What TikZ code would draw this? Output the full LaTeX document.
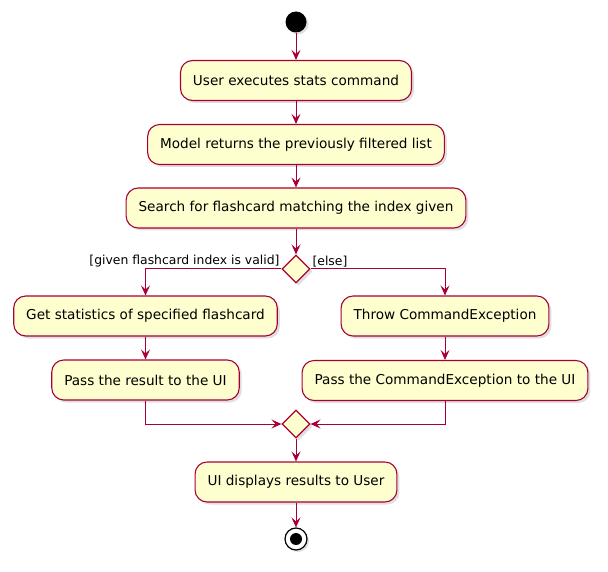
\documentclass[tikz,border=0pt]{standalone}
\usepackage{fontspec}
\setmainfont{DejaVu Sans}
\usetikzlibrary{arrows.meta,shapes.geometric,shadows}
\definecolor{umlfill}{HTML}{FEFECE}
\definecolor{umlline}{HTML}{A80036}
\begin{document}
\begin{tikzpicture}[x=1pt,y=-1pt,
    act/.style={draw=umlline, fill=umlfill, line width=1.1pt, rounded corners=12pt,
        minimum height=40pt, inner xsep=12.5pt, font=\fontsize{13.6}{15}\selectfont,
        drop shadow={shadow xshift=2.5pt, shadow yshift=-2.5pt, opacity=0.25}},
    branch/.style={diamond, draw=umlline, fill=umlfill, line width=1.1pt,
        minimum width=28pt, minimum height=28pt, inner sep=0pt,
        drop shadow={shadow xshift=2.5pt, shadow yshift=-2.5pt, opacity=0.25}},
    flow/.style={draw=umlline, line width=1pt, -{Stealth[length=10pt, width=9pt, inset=4pt]}},
    guard/.style={font=\fontsize{12.4}{14}\selectfont, inner sep=1.5pt}]
    \useasboundingbox (0,0) rectangle (608,572);
    \node[circle, fill=black, minimum size=21pt, inner sep=0pt,
        drop shadow={shadow xshift=2pt, shadow yshift=-2pt, opacity=0.25}] (start) at (296,22) {}; % Start
    \node[act] (user) at (296,80.5) {User executes stats command};
    \node[act] (model) at (296,144.5) {Model returns the previously filtered list};
    \node[act] (search) at (296,208) {Search for flashcard matching the index given};
    \node[branch] (check) at (296,269) {}; % Checking the index
    \node[act] (stats) at (145.5,316) {Get statistics of specified flashcard};
    \node[act] (pass) at (145.5,380) {Pass the result to the UI};
    \node[act] (throw) at (445,316) {Throw CommandException};
    \node[act] (passex) at (445,380.5) {Pass the CommandException to the UI};
    \node[branch] (merge) at (296,424) {}; % Merging both branches
    \node[act] (show) at (296,482) {UI displays results to User};
    \node[circle, draw=black, fill=white, line width=1.2pt, minimum size=22pt, inner sep=0pt,
        drop shadow={shadow xshift=2pt, shadow yshift=-2pt, opacity=0.25}] (stop) at (296,539) {}; % End
    \node[circle, fill=black, minimum size=12pt, inner sep=0pt] (stopdot) at (stop) {};
    \draw[flow] (start) -- (user);
    \draw[flow] (user) -- (model);
    \draw[flow] (model) -- (search);
    \draw[flow] (search) -- (check);
    \draw[flow] (check.west) node[guard, anchor=south east] {[given flashcard index is valid]} -| (stats.north);
    \draw[flow] (check.east) node[guard, anchor=south west] {[else]} -| (throw.north);
    \draw[flow] (stats) -- (pass);
    \draw[flow] (throw) -- (passex);
    \draw[flow] (pass.south) |- (merge.west);
    \draw[flow] (passex.south) |- (merge.east);
    \draw[flow] (merge) -- (show);
    \draw[flow] (show) -- (stop);
\end{tikzpicture}
\end{document}
